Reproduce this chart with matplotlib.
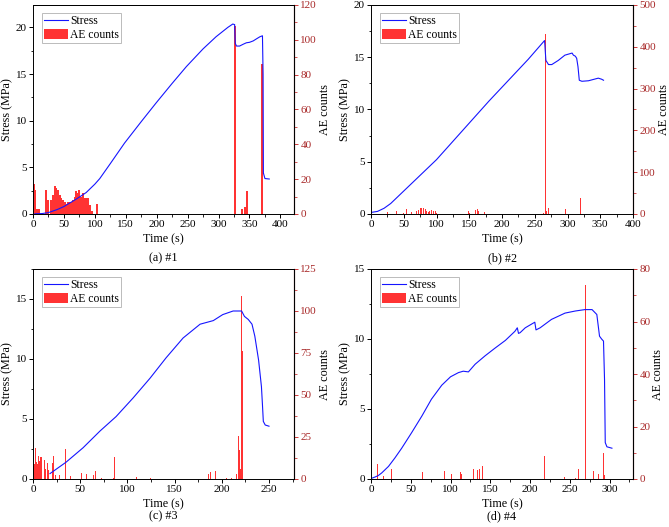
import matplotlib
matplotlib.use("Agg")
import matplotlib.pyplot as plt
from matplotlib.ticker import MultipleLocator, AutoMinorLocator

plt.rcParams['font.family'] = ['Liberation Serif', 'DejaVu Serif']
plt.rcParams['font.size'] = 8

# ---------------- Data ----------------
# (a) #1
t1 = [3, 15, 25, 40, 50, 60, 70, 86, 100, 108, 125, 148, 175, 199, 225, 248, 275, 296, 315, 323,
      326, 327, 329, 334, 340, 345, 350, 356, 362, 367, 371, 372, 372.5, 375, 382]
s1 = [0.02, 0.05, 0.15, 0.5, 0.8, 1.2, 1.6, 2.3, 3.2, 3.8, 5.4, 7.6, 9.9, 11.9, 14.0, 15.8, 17.7, 19.0, 20.0, 20.36,
      20.3, 18.3, 18.0, 18.0, 18.2, 18.35, 18.4, 18.55, 18.8, 19.0, 19.1, 15.0, 4.4, 3.8, 3.75]
ae_t1 = [1, 3, 6, 10, 21.5, 24, 28.5, 32, 35, 38, 40.5, 43, 46, 48.5, 51, 54, 57, 59.5, 62, 65, 67.5, 70,
         72.5, 75, 78, 81, 84, 86.5, 89, 92, 96, 104, 326, 338, 342, 346, 370]
ae_c1 = [17, 14, 3, 3, 14, 8, 8, 11, 16, 15, 14, 11, 9, 8, 7, 6, 7, 7, 7, 8, 10, 13,
         12, 14, 10, 12, 9, 9, 9, 5, 2, 6, 108, 3, 4, 13, 86]

# (b) #2
t2 = [0, 10, 20, 30, 40, 50, 60, 70, 80, 90, 100, 120, 150, 180, 210, 240, 265,
      267, 271, 276, 286, 296, 307, 309, 312, 314, 316, 318, 322, 332, 347, 352, 355]
s2 = [0.15, 0.25, 0.55, 1.0, 1.6, 2.2, 2.8, 3.4, 4.0, 4.6, 5.2, 6.6, 8.7, 10.8, 12.8, 14.8, 16.6,
      14.7, 14.3, 14.3, 14.7, 15.2, 15.4, 15.2, 15.1, 14.9, 14.1, 12.8, 12.7, 12.75, 13.0, 12.9, 12.8]
ae_t2 = [25.5, 39, 49, 54.5, 62, 70, 72, 75, 77, 80, 83, 85, 88, 90, 93, 95, 98, 100,
         149, 151, 159, 162, 164, 174, 264, 267, 268.5, 271, 297, 320]
ae_c2 = [5, 7, 2, 11, 5, 8, 10, 14, 15, 14, 13, 7, 5, 8, 9, 8, 6, 2,
         6, 3, 9, 12, 6, 4, 2, 430, 6, 14, 13, 39]

# (c) #3
t3 = [18, 35, 53, 71, 88, 106, 124, 141, 159, 177, 191, 201, 212, 221, 224, 228, 232, 235, 239,
      242, 243, 244, 246, 250]
s3 = [0.45, 1.4, 2.6, 4.0, 5.2, 6.75, 8.4, 10.1, 11.75, 12.9, 13.2, 13.7, 14.0, 14.0, 13.55, 13.3, 12.9,
      11.9, 9.9, 7.7, 6.3, 4.8, 4.5, 4.4]
ae_t3 = [1, 2, 3, 4, 5, 6, 7, 8, 9, 10.6, 12, 13, 15, 16, 18, 20.5, 22, 24, 27.6, 34.6, 39.6, 42.4,
         51, 54, 57, 64, 66, 72.5, 85, 86.6, 110, 124, 186, 188, 193, 205, 210, 214, 216, 217.5,
         218.5, 219.5, 220.5, 221.5, 222.5]
ae_c3 = [8, 9, 18.5, 10, 9, 13.5, 11, 13, 13, 9.5, 11.5, 6, 9.5, 5.5, 4.5, 9.5, 13.5, 2.5, 2.5, 18, 1.5, 6,
         3.5, 4, 3, 2.5, 4.5, 0.6, 0.6, 13, 1, 0.6, 3, 4, 4.5, 0.6, 0.6, 24, 3, 25.5,
         17.5, 6, 109, 76, 3]

# (d) #4
t4 = [1.7, 5, 9, 13.4, 22, 30, 38.6, 51, 64, 76, 89, 100, 110, 116, 122.5, 131, 143.5, 156, 169, 181, 184,
      185.5, 187.5, 194, 206, 207.5, 212.7, 227, 244, 257, 269, 278, 284, 287.4, 290, 292.4, 293.7,
      294.6, 296.7, 303]
s4 = [0.07, 0.14, 0.24, 0.43, 0.9, 1.5, 2.2, 3.3, 4.5, 5.7, 6.7, 7.3, 7.6, 7.7, 7.65, 8.2, 8.8, 9.35, 9.9, 10.55, 10.8,
      10.4, 10.45, 10.8, 11.2, 10.65, 10.8, 11.4, 11.85, 12.0, 12.1, 12.1, 11.75, 10.2, 10.0, 9.85, 7.1,
      2.6, 2.3, 2.2]
ae_t4 = [8.4, 15.5, 26, 56.6, 64.6, 92, 101.5, 105.7, 113, 114, 119.6, 129, 134, 136, 140.6, 171, 218,
         243, 257, 259, 260.6, 269.4, 280, 283, 286, 292.5, 294]
ae_c4 = [5.7, 1, 3.8, 1.9, 2.8, 2.9, 1.9, 0.8, 2.8, 1.9, 0.6, 3.8, 3.3, 3.9, 5.0, 1.9, 8.9,
         0.8, 0.4, 4.8, 3.8, 73.9, 2.9, 1.9, 1.9, 9.9, 1.6]

panels = [
    dict(t=t1, s=s1, at=ae_t1, ac=ae_c1, w=3.2, xlim=(0, 422), xmaj=50, ylim=(0, 22.4), ymaj=5,
         y2lim=(0, 120), y2maj=20, cap='(a) #1', pos=(33, 5, 294, 214), capy=258),
    dict(t=t2, s=s2, at=ae_t2, ac=ae_c2, w=1.6, xlim=(0, 400), xmaj=50, ylim=(0, 20), ymaj=5,
         y2lim=(0, 500), y2maj=100, cap='(b) #2', pos=(371, 5, 633, 214), capy=258),
    dict(t=t3, s=s3, at=ae_t3, ac=ae_c3, w=1.0, xlim=(0, 276.5), xmaj=50, ylim=(0, 17.5), ymaj=5,
         y2lim=(0, 125), y2maj=25, cap='(c) #3', pos=(33, 269, 294, 479), capy=516),
    dict(t=t4, s=s4, at=ae_t4, ac=ae_c4, w=1.0, xlim=(0, 329.5), xmaj=50, ylim=(0, 15), ymaj=5,
         y2lim=(0, 80), y2maj=20, cap='(d) #4', pos=(371, 269, 633, 479), capy=516),
]

W, H = 669, 527
fig = plt.figure(figsize=(W / 100, H / 100), dpi=100)

red_spine = '#D03A3A'
red_lab = '#A82828'

for p in panels:
    x0, y0, x1, y1 = p['pos']
    ax = fig.add_axes([x0 / W, 1 - y1 / H, (x1 - x0) / W, (y1 - y0) / H])
    ax2 = ax.twinx()
    bars = ax2.bar(p['at'], p['ac'], width=p['w'], color='#FF3333', linewidth=0, label='AE counts')
    line, = ax.plot(p['t'], p['s'], color='#1515FF', lw=0.8, label='Stress')
    ax.set_zorder(ax2.get_zorder() + 1)
    ax.patch.set_visible(False)

    ax.set_xlim(*p['xlim'])
    ax.set_ylim(*p['ylim'])
    ax2.set_ylim(*p['y2lim'])
    ax.xaxis.set_major_locator(MultipleLocator(p['xmaj']))
    ax.xaxis.set_minor_locator(AutoMinorLocator(2))
    ax.yaxis.set_major_locator(MultipleLocator(p['ymaj']))
    ax.yaxis.set_minor_locator(AutoMinorLocator(2))
    ax2.yaxis.set_major_locator(MultipleLocator(p['y2maj']))
    ax2.yaxis.set_minor_locator(AutoMinorLocator(2))

    ax.tick_params(which='both', direction='out', top=False, right=False, labelsize=8, pad=1.5)
    ax.tick_params(which='major', length=3, width=0.7)
    ax.tick_params(which='minor', length=1.8, width=0.6)
    ax2.tick_params(which='both', direction='out', colors=red_spine, labelcolor=red_lab, labelsize=8, pad=1.5)
    ax2.tick_params(which='major', length=3, width=0.7)
    ax2.tick_params(which='minor', length=1.8, width=0.6)
    for sp in ['left', 'bottom', 'top']:
        ax.spines[sp].set_linewidth(0.7)
    ax2.spines['right'].set_color(red_spine)
    ax2.spines['right'].set_linewidth(0.8)
    ax2.spines['left'].set_visible(False)
    ax2.spines['bottom'].set_visible(False)
    ax2.spines['top'].set_linewidth(0.7)

    ax.set_xlabel('Time (s)', fontsize=8.7, labelpad=3)
    ax.set_ylabel('Stress (MPa)', fontsize=8.7, labelpad=1.5)
    ax2.set_ylabel('AE counts', fontsize=8.7, labelpad=1.5)

    leg = ax.legend([line, bars], ['Stress', 'AE counts'], loc='upper left',
                    bbox_to_anchor=(0.033, 0.963), fontsize=8.4, frameon=True, fancybox=False,
                    framealpha=1, edgecolor='#BBBBBB', handlelength=2.1, handleheight=0.9,
                    borderpad=0.2, labelspacing=0.15, handletextpad=0.15, borderaxespad=0)
    leg.get_frame().set_linewidth(0.7)

    cx = (x0 + x1) / 2 / W
    cy = 1 - p['capy'] / H
    fig.text(cx, cy, p['cap'], ha='center', va='center', fontsize=8.7)

fig.savefig('out.png', dpi=100)
